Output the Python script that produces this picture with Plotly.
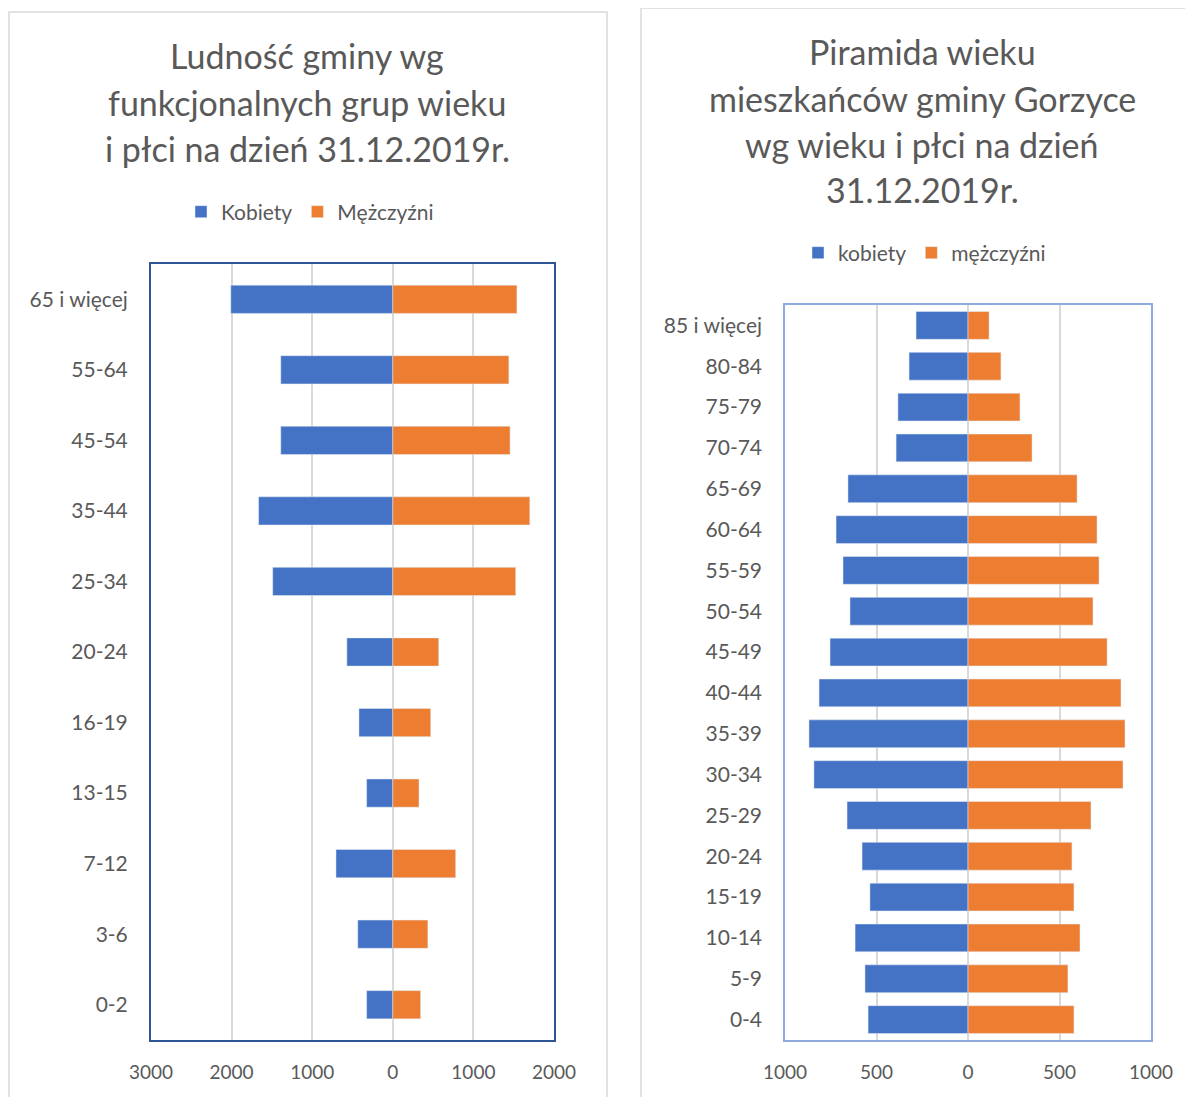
import plotly.graph_objects as go

# funkcjonalne grupy wieku (lewy wykres)
grupy = ["65 i więcej", "55-64", "45-54", "35-44", "25-34", "20-24",
         "16-19", "13-15", "7-12", "3-6", "0-2"]
kobiety_grupy = [2010, 1390, 1390, 1665, 1490, 570, 420, 325, 705, 435, 325]
mezczyzni_grupy = [1540, 1440, 1455, 1700, 1525, 570, 470, 325, 780, 435, 345]

# piramida wieku (prawy wykres)
wiek = ["85 i więcej", "80-84", "75-79", "70-74", "65-69", "60-64", "55-59",
        "50-54", "45-49", "40-44", "35-39", "30-34", "25-29", "20-24",
        "15-19", "10-14", "5-9", "0-4"]
kobiety_wiek = [284, 322, 383, 393, 656, 721, 683, 645, 754, 814, 869, 842,
                661, 579, 536, 617, 563, 546]
mezczyzni_wiek = [115, 180, 284, 350, 596, 705, 716, 683, 760, 836, 858, 847,
                  672, 568, 579, 612, 546, 579]

tick_lewy = [-3000, -2000, -1000, 0, 1000, 2000]
tick_prawy = [-1000, -500, 0, 500, 1000]

W, H = 1193, 1097
OFF = 8  # margines strony w przeglądarce
NIEBIESKI = "#4472C4"
POMARANCZ = "#ED7D31"
SZARY = "#595959"
FONT = "Lato"

fig = go.Figure()

fig.add_trace(go.Bar(y=grupy, x=[-v for v in kobiety_grupy], orientation="h",
                     name="Kobiety", marker_color=NIEBIESKI, width=0.4,
                     xaxis="x", yaxis="y", legend="legend"))
fig.add_trace(go.Bar(y=grupy, x=mezczyzni_grupy, orientation="h",
                     name="Mężczyźni", marker_color=POMARANCZ, width=0.4,
                     xaxis="x", yaxis="y", legend="legend"))
fig.add_trace(go.Bar(y=wiek, x=[-v for v in kobiety_wiek], orientation="h",
                     name="kobiety", marker_color=NIEBIESKI, width=0.68,
                     xaxis="x2", yaxis="y2", legend="legend2"))
fig.add_trace(go.Bar(y=wiek, x=mezczyzni_wiek, orientation="h",
                     name="mężczyźni", marker_color=POMARANCZ, width=0.68,
                     xaxis="x2", yaxis="y2", legend="legend2"))

def px(x):
    return (x - OFF) / W

def py(y):
    return (H - (y - OFF)) / H

os_x = dict(showgrid=True, gridcolor="#D9D9D9", gridwidth=1.5, zeroline=False,
            showline=True, mirror=True, automargin=False,
            ticks="outside", ticklen=14, tickcolor="rgba(0,0,0,0)",
            tickfont=dict(size=19, color=SZARY, family=FONT))
os_y = dict(showgrid=False, zeroline=False, showline=True, mirror=True,
            ticks="outside", ticklen=17, tickcolor="rgba(0,0,0,0)",
            autorange="reversed", automargin=False,
            tickfont=dict(size=21, color=SZARY, family=FONT))

fig.update_layout(
    width=W, height=H,
    margin=dict(l=0, r=0, t=0, b=0, autoexpand=False),
    paper_bgcolor="white", plot_bgcolor="white",
    barmode="relative",
    font=dict(family=FONT, color=SZARY),
    xaxis=dict(os_x, domain=[px(151), px(554)], anchor="y",
               range=[-3000, 2000], tickvals=tick_lewy,
               ticktext=[str(abs(v)) for v in tick_lewy],
               linecolor="#2F5597", linewidth=2),
    yaxis=dict(os_y, domain=[py(1040), py(264)], anchor="x",
               linecolor="#2F5597", linewidth=2),
    xaxis2=dict(os_x, domain=[px(785), px(1151)], anchor="y2",
                range=[-1000, 1000], tickvals=tick_prawy,
                ticktext=[str(abs(v)) for v in tick_prawy],
                linecolor="#8FAADC", linewidth=1.5),
    yaxis2=dict(os_y, domain=[py(1040), py(305)], anchor="x2",
                linecolor="#8FAADC", linewidth=1.5),
    legend=dict(orientation="h", x=px(181), y=py(212), xanchor="left",
                yanchor="middle", font=dict(size=21, color=SZARY, family=FONT),
                bgcolor="rgba(0,0,0,0)"),
    legend2=dict(orientation="h", x=px(798), y=py(253), xanchor="left",
                 yanchor="middle", font=dict(size=21, color=SZARY, family=FONT),
                 bgcolor="rgba(0,0,0,0)"),
)

# ramki obu wykresów
for x0, x1, y0 in [(9, 607, 12), (641, 1215, 8)]:
    fig.add_shape(type="rect", xref="paper", yref="paper",
                  x0=px(x0), x1=px(x1), y0=py(1120), y1=py(y0),
                  line=dict(color="#D9D9D9", width=1.5))

tytul_lewy = ["Ludność gminy wg", "funkcjonalnych grup wieku",
              "i płci na dzień 31.12.2019r."]
tytul_prawy = ["Piramida wieku", "mieszkańców gminy Gorzyce",
               "wg wieku i płci na dzień", "31.12.2019r."]
for i, t in enumerate(tytul_lewy):
    fig.add_annotation(text=t, x=px(307), y=py(56 + 46 * i), xref="paper",
                       yref="paper", showarrow=False, xanchor="center",
                       yanchor="middle", font=dict(size=34, color=SZARY, family=FONT))
for i, t in enumerate(tytul_prawy):
    fig.add_annotation(text=t, x=px(922), y=py(52 + 46 * i), xref="paper",
                       yref="paper", showarrow=False, xanchor="center",
                       yanchor="middle", font=dict(size=34, color=SZARY, family=FONT))

fig.write_html("out.html")
